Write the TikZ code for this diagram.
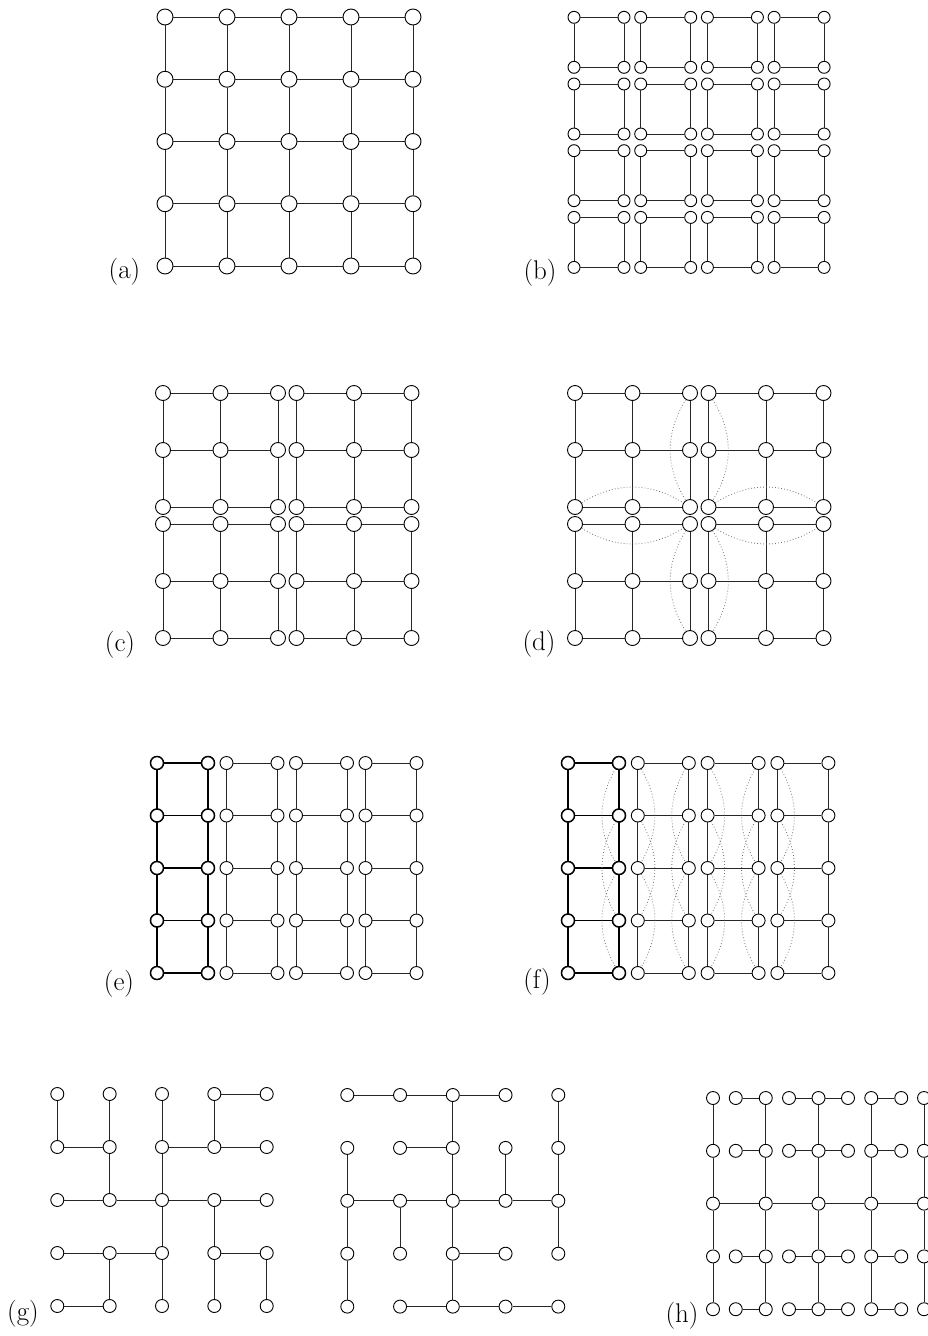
\documentclass[tikz,border=0pt]{standalone}
\usepackage{fontspec}
\begin{document}
\begin{tikzpicture}[x=1pt,y=-1pt,
  vtx/.style={circle, draw=black, fill=white, line width=0.9pt, inner sep=0pt, minimum size=#1},
  vtx/.default=13pt,
  bvtx/.style={vtx=#1, line width=1.5pt},
  bvtx/.default=13pt,
  eg/.style={draw=black!85, line width=0.9pt},
  beg/.style={draw=black, line width=1.5pt},
  dt/.style={draw=black!55, line width=0.8pt, dash pattern=on 0.8pt off 2.2pt},
  lbl/.style={font=\fontsize{27}{30}\selectfont, inner sep=0pt}]
\useasboundingbox (0,0) rectangle (928,1336);

% ---------------- (a)
\foreach \i in {0,...,4}{\foreach \j in {0,...,4}{
  \node[vtx=16pt] (a-\i-\j) at ({165+62*\i},{17+62.25*\j}) {};
}}
\foreach \i in {0,...,4}{\foreach \j [count=\k] in {0,...,3}{
  \draw[eg] (a-\i-\j) -- (a-\i-\k);
  \draw[eg] (a-\j-\i) -- (a-\k-\i);
}}
\node[lbl] (la) at (124.5,271.5) {(a)};

% ---------------- (b)
\foreach \I in {0,...,7}{\foreach \J in {0,...,7}{
  \node[vtx=12pt] (b-\I-\J) at ({574+int(\I/2)*66.7+mod(\I,2)*50},{17.3+int(\J/2)*66.7+mod(\J,2)*50}) {};
}}
\foreach \m [evaluate=\m as \n using int(\m+1)] in {0,2,4,6}{\foreach \K in {0,...,7}{
  \draw[eg] (b-\m-\K) -- (b-\n-\K);
  \draw[eg] (b-\K-\m) -- (b-\K-\n);
}}
\node[lbl] (lb) at (540,272.5) {(b)};

% ---------------- (c)
\foreach \I in {0,...,5}{\foreach \J in {0,...,5}{
  \node[vtx=15pt] (c-\I-\J) at ({163+int(\I/3)*133.5+mod(\I,3)*57.5},{393+int(\J/3)*131+mod(\J,3)*57}) {};
}}
\foreach \m [evaluate=\m as \n using int(\m+1)] in {0,1,3,4}{\foreach \K in {0,...,5}{
  \draw[eg] (c-\m-\K) -- (c-\n-\K);
  \draw[eg] (c-\K-\m) -- (c-\K-\n);
}}
\node[lbl] (lc) at (120,644.5) {(c)};

% ---------------- (d)
\foreach \I in {0,...,5}{\foreach \J in {0,...,5}{
  \node[vtx=15pt] (d-\I-\J) at ({575+int(\I/3)*133.5+mod(\I,3)*57.5},{393+int(\J/3)*131+mod(\J,3)*57}) {};
}}
\foreach \m [evaluate=\m as \n using int(\m+1)] in {0,1,3,4}{\foreach \K in {0,...,5}{
  \draw[eg] (d-\m-\K) -- (d-\n-\K);
  \draw[eg] (d-\K-\m) -- (d-\K-\n);
}}
\draw[dt] (d-2-0) to[bend right=32] (d-2-2);
\draw[dt] (d-0-2) to[bend left=32] (d-2-2);
\draw[dt] (d-3-0) to[bend left=32] (d-3-2);
\draw[dt] (d-3-2) to[bend left=32] (d-5-2);
\draw[dt] (d-0-3) to[bend right=32] (d-2-3);
\draw[dt] (d-2-3) to[bend right=32] (d-2-5);
\draw[dt] (d-3-3) to[bend right=32] (d-5-3);
\draw[dt] (d-3-3) to[bend left=32] (d-3-5);
\node[lbl] (ld) at (539,643.5) {(d)};

% ---------------- (e)
\foreach \I in {0,...,7}{\foreach \J in {0,...,4}{
  \node[vtx=13pt] (e-\I-\J) at ({157+int(\I/2)*69.5+mod(\I,2)*51},{763+52.5*\J}) {};
}}
\foreach \I in {0,1}{\foreach \J in {0,...,4}{
  \node[bvtx=13pt] at (e-\I-\J) {};
}}
\foreach \J in {0,...,4}{\draw[beg] (e-0-\J) -- (e-1-\J);}
\foreach \I in {0,1}{\foreach \J [count=\k] in {0,...,3}{\draw[beg] (e-\I-\J) -- (e-\I-\k);}}
\foreach \m [evaluate=\m as \n using int(\m+1)] in {2,4,6}{\foreach \J in {0,...,4}{
  \draw[eg] (e-\m-\J) -- (e-\n-\J);
}}
\foreach \I in {2,...,7}{\foreach \J [count=\k] in {0,...,3}{\draw[eg] (e-\I-\J) -- (e-\I-\k);}}
\node[lbl] (le) at (119,984) {(e)};

% ---------------- (f)
\foreach \I in {0,...,7}{\foreach \J in {0,...,4}{
  \node[vtx=13pt] (f-\I-\J) at ({568+int(\I/2)*69.8+mod(\I,2)*51},{763+52.5*\J}) {};
}}
\foreach \I in {0,1}{\foreach \J in {0,...,4}{
  \node[bvtx=13pt] at (f-\I-\J) {};
}}
\foreach \J in {0,...,4}{\draw[beg] (f-0-\J) -- (f-1-\J);}
\foreach \I in {0,1}{\foreach \J [count=\k] in {0,...,3}{\draw[beg] (f-\I-\J) -- (f-\I-\k);}}
\foreach \m [evaluate=\m as \n using int(\m+1)] in {2,4,6}{\foreach \J in {0,...,4}{
  \draw[eg] (f-\m-\J) -- (f-\n-\J);
}}
\foreach \I in {2,...,7}{\foreach \J [count=\k] in {0,...,3}{\draw[eg] (f-\I-\J) -- (f-\I-\k);}}
\foreach \I in {1,3,5}{\foreach \J [evaluate=\J as \K using int(\J+2)] in {0,1,2}{
  \draw[dt] (f-\I-\J) to[bend right=30] (f-\I-\K);
}}
\foreach \I in {2,4,6}{\foreach \J [evaluate=\J as \K using int(\J+2)] in {0,1,2}{
  \draw[dt] (f-\I-\J) to[bend left=30] (f-\I-\K);
}}
\node[lbl] (lf) at (537,981.5) {(f)};

% ---------------- (g) left
\foreach \i in {0,...,4}{\foreach \j in {0,...,4}{
  \node[vtx=13pt] (gl-\i-\j) at ({57.3+52.35*\i},{1094+53*\j}) {};
}}
\foreach \p/\q/\r/\s in {3/0/4/0,0/0/0/1,1/0/1/1,2/0/2/1,3/0/3/1,
  0/1/1/1,2/1/3/1,3/1/4/1,1/1/1/2,2/1/2/2,
  0/2/1/2,1/2/2/2,2/2/3/2,3/2/4/2,2/2/2/3,3/2/3/3,
  0/3/1/3,1/3/2/3,3/3/4/3,1/3/1/4,2/3/2/4,3/3/3/4,4/3/4/4,0/4/1/4}{
  \draw[eg] (gl-\p-\q) -- (gl-\r-\s);
}
\node[lbl] (lg) at (23,1314) {(g)};

% ---------------- (g) right
\foreach \i in {0,...,4}{\foreach \j in {0,...,4}{
  \node[vtx=13pt] (gr-\i-\j) at ({347.3+52.75*\i},{1095+52.9*\j}) {};
}}
\foreach \p/\q/\r/\s in {0/0/1/0,1/0/2/0,2/0/3/0,2/0/2/1,4/0/4/1,
  1/1/2/1,0/1/0/2,2/1/2/2,3/1/3/2,4/1/4/2,
  0/2/1/2,1/2/2/2,2/2/3/2,3/2/4/2,
  0/2/0/3,1/2/1/3,2/2/2/3,4/2/4/3,2/3/3/3,
  0/3/0/4,2/3/2/4,1/4/2/4,2/4/3/4,3/4/4/4}{
  \draw[eg] (gr-\p-\q) -- (gr-\r-\s);
}

% ---------------- (h)
\foreach \m in {0,...,4}{\foreach \j in {0,...,4}{
  \node[vtx=13pt] (h-\m-\j) at ({713+52.75*\m},{1098+52.8*\j}) {};
}}
\foreach \lx/\k in {735.75/1,789/2,848/3,901.25/4}{\foreach \j in {0,1,3,4}{
  \node[vtx=13pt] (hl-\k-\j) at (\lx,{1098+52.8*\j}) {};
}}
\foreach \m in {0,...,4}{\foreach \j [count=\k] in {0,...,3}{\draw[eg] (h-\m-\j) -- (h-\m-\k);}}
\foreach \m [count=\n] in {0,...,3}{\draw[eg] (h-\m-2) -- (h-\n-2);}
\foreach \j in {0,1,3,4}{
  \draw[eg] (hl-1-\j) -- (h-1-\j);
  \draw[eg] (hl-2-\j) -- (h-2-\j);
  \draw[eg] (h-2-\j) -- (hl-3-\j);
  \draw[eg] (h-3-\j) -- (hl-4-\j);
}
\node[lbl] (lh) at (682,1316) {(h)};
\end{tikzpicture}
\end{document}
